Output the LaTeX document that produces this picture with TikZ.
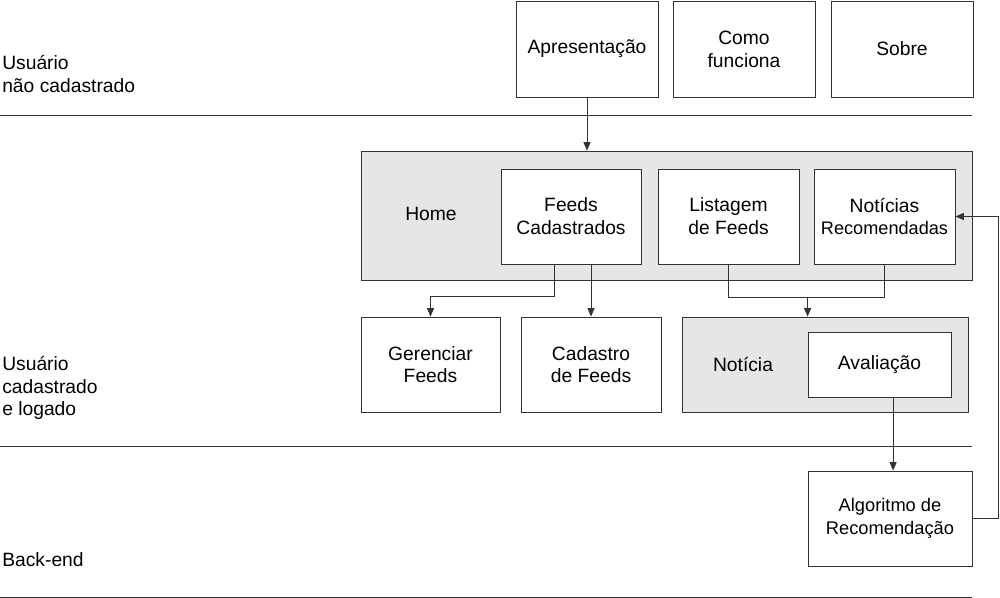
\documentclass[tikz,border=0pt]{standalone}
\usepackage{fontspec}
\setmainfont{Liberation Sans}
\usepackage{tikz}
\usetikzlibrary{arrows.meta,calc}
\definecolor{uigray}{HTML}{E6E6E6}
\definecolor{uiline}{HTML}{333333}

\begin{document}
\begin{tikzpicture}[x=0.025cm, y=-0.025cm,
  font=\fontsize{13.7}{16.2}\selectfont,
  box/.style={draw=uiline, line width=0.6pt, fill=white, inner sep=0pt, align=center,
    minimum width=3.5cm, minimum height=2.375cm},
  panel/.style={draw=uiline, line width=0.6pt, fill=uigray, inner sep=0pt},
  lane/.style={anchor=west, align=left, inner sep=0pt},
  arr/.style={draw=uiline, line width=0.6pt, -{Triangle[length=6pt,width=5pt]}},
  link/.style={draw=uiline, line width=0.6pt}]
\useasboundingbox (0,0) rectangle (1000,598);

% lanes
\draw[link] (0,115) -- (972,115);
\draw[link] (0,446) -- (972,446);
\draw[link] (0,597) -- (972,597);
\node[lane] (lanevisit) at (2,74) {Usuário\\não cadastrado};
\node[lane] (lanelogged) at (2,388) {Usuário\\cadastrado\\e logado};
\node[lane] (laneback) at (2,560) {Back-end};

% public pages
\node[box, minimum width=3.55cm, minimum height=2.4cm] (apres) at (587,49) {Apresentação};
\node[box, minimum width=3.55cm, minimum height=2.4cm] (como) at (744,49) {Como\\funciona};
\node[box, minimum width=3.55cm, minimum height=2.4cm] (sobre) at (902,49) {Sobre};

% home
\node[panel, minimum width=15.275cm, minimum height=3.225cm] (home) at (666.5,215.5) {};
\node (hometxt) at (431,214) {Home};
\node[box] (feedscad) at (571,216.5) {Feeds\\Cadastrados};
\node[box, minimum width=3.525cm] (listagem) at (728.5,216.5) {Listagem\\de Feeds};
\node[box, minimum width=3.525cm] (noticias) at (884.5,216.5) {Notícias\\{\fontsize{12.9}{16}\selectfont Recomendadas}};

% second row
\node[box, minimum width=3.475cm] (gerenc) at (430.5,364.5) {Gerenciar\\Feeds};
\node[box] (cadastro) at (591,364.5) {Cadastro\\de Feeds};
\node[panel, minimum width=7.15cm, minimum height=2.375cm] (noticia) at (825,364.5) {};
\node (noticiatxt) at (743,364) {Notícia};
\node[box, minimum width=3.575cm, minimum height=1.625cm] (avaliacao) at (879.5,364.5) {Avaliação};

% back-end
\node[box, minimum width=4.1cm, font=\fontsize{13}{16.2}\selectfont] (algoritmo) at (890,518.5) {Algoritmo de\\Recomendação};

% connectors
\draw[arr] (apres.south) -- (apres.south |- home.north);
\draw[arr] ([xshift=-0.425cm]feedscad.south) -- ++(0,32) -| (gerenc.north);
\draw[arr] (feedscad.south -| cadastro.north) -- (cadastro.north);
\coordinate (merge) at ($(listagem.south)+(0,33)$);
\draw[link] (listagem.south) -- (merge) -| (noticias.south);
\draw[arr] (merge -| avaliacao.west) -- (avaliacao.west |- noticia.north);
\draw[arr] ([xshift=0.34cm]avaliacao.south) -- ([xshift=0.34cm]avaliacao.south |- algoritmo.north);
\draw[arr] (algoritmo.east) -- ++(26,0) |- (noticias.east);
\end{tikzpicture}
\end{document}
